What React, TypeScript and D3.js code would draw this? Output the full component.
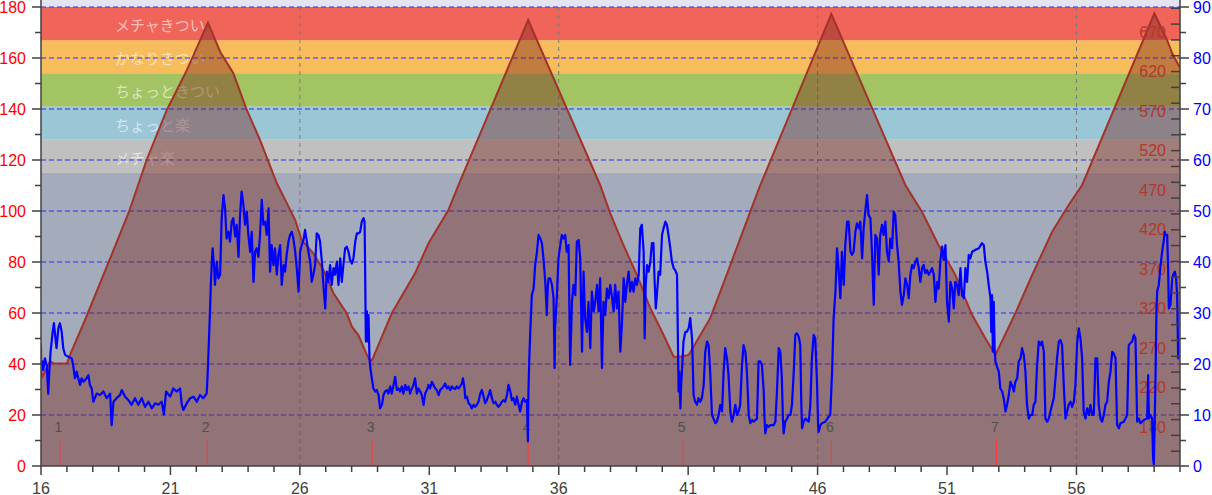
import React from 'react';
import * as d3 from 'd3';

// ---------- data ----------
const xTicksMajor = [16, 21, 26, 31, 36, 41, 46, 51, 56];
const xGridValues = [26, 36, 46, 56];
const leftTickLabels = [0, 20, 40, 60, 80, 100, 120, 140, 160, 180];
const rightTickLabels = [0, 10, 20, 30, 40, 50, 60, 70, 80, 90];
const elevLabels = [170, 220, 270, 320, 370, 420, 470, 520, 570, 620, 670];

const bandLimits = [115, 128, 141, 154, 167, 180];
const bandNames = ['メチャ楽', 'ちょっと楽', 'ちょっときつい', 'かなりきつい', 'メチャきつい'];

const lapDist = [16.73, 22.42, 28.79, 34.82, 40.81, 46.53, 52.91, 59.01];
const lapNames = ['1', '2', '3', '4', '5', '6', '7', '8'];

// elevation profile (m)
const elevDist = [16.0, 16.03, 16.35, 16.5, 17.0, 17.12, 17.7, 18.6, 19.4, 20.08, 20.86, 21.63, 22.45,
  22.92, 23.43, 23.95, 24.46, 25.11, 25.5, 25.82, 26.07, 26.52, 26.91, 27.3, 27.81, 28.01, 28.26, 28.65, 28.78,
  29.55, 30.45, 30.97, 31.74, 32.13, 34.82,
  37.6, 37.99, 38.5, 39.02, 39.54, 40.05, 40.44, 40.7, 41.02,
  41.85, 42.63, 43.4, 43.79, 46.53,
  49.39, 50.03, 50.67, 51.32, 51.97, 52.48, 52.87,
  53.64, 54.29, 55.06, 55.7, 56.22, 59.01, 59.5, 59.7, 60.0];
const elevM = [276.6, 232.7, 254.1, 250.9, 250.9, 261.7, 305.9, 378.0, 442.8, 508.2, 571.4, 621.4, 681.8,
  645.1, 617.8, 571.4, 533.5, 478.7, 453.4, 432.3, 407.0, 390.2, 369.1, 339.7, 314.4, 297.4, 286.9, 257.5, 254.5,
  314.4, 364.9, 402.9, 445.0, 476.6, 685.2,
  476.6, 440.8, 400.7, 362.8, 320.7, 286.9, 259.5, 259.5, 261.7,
  308.1, 375.4, 442.9, 476.6, 692.8,
  476.6, 442.8, 400.7, 362.8, 312.2, 282.8, 261.7,
  314.4, 362.8, 417.5, 451.3, 476.6, 693.4, 659.9, 643.1, 624.5];

// blue series (right axis)
const blueSeries: [number, number][] = [
  [16.0, 20.0], [16.06, 20.5], [16.09, 18.8], [16.15, 21.1], [16.22, 19.8], [16.28, 14.2], [16.32, 18.5], [16.37, 22.4], [16.45, 26.3], [16.5, 28.0], [16.57, 24.4], [16.6, 23.1], [16.67, 27.0], [16.73, 28.0], [16.8, 26.3], [16.86, 23.1], [16.93, 21.8], [17.06, 21.4], [17.19, 21.1], [17.25, 19.5], [17.31, 17.2], [17.38, 18.5], [17.44, 17.2], [17.51, 15.9], [17.57, 17.2], [17.64, 16.5], [17.76, 17.2], [17.83, 17.8], [17.89, 15.9], [17.96, 15.2], [18.02, 12.6], [18.15, 14.2], [18.28, 13.9], [18.41, 14.6], [18.54, 13.3], [18.67, 14.2], [18.73, 8.0], [18.8, 12.6], [18.92, 13.3], [19.05, 13.9], [19.12, 14.9], [19.25, 13.6], [19.38, 12.9], [19.5, 12.0], [19.63, 13.3], [19.76, 12.0], [19.89, 13.3], [20.02, 11.6], [20.15, 12.6], [20.28, 11.3], [20.41, 12.3], [20.53, 12.0], [20.66, 12.6], [20.75, 10.1], [20.83, 14.6], [20.99, 13.6], [21.11, 15.2], [21.24, 14.6], [21.37, 15.2], [21.44, 12.0], [21.5, 11.0], [21.63, 12.3], [21.76, 13.3], [21.89, 13.6], [22.02, 12.6], [22.14, 13.9], [22.27, 13.3], [22.4, 14.2], [22.44, 18.2], [22.49, 25.0], [22.53, 30.6], [22.56, 35.5], [22.6, 40.1], [22.63, 42.7], [22.69, 38.8], [22.72, 35.5], [22.79, 40.1], [22.85, 36.8], [22.92, 37.5], [22.98, 48.6], [23.05, 53.1], [23.11, 50.5], [23.17, 44.6], [23.24, 45.9], [23.3, 44.0], [23.37, 47.9], [23.43, 48.6], [23.5, 45.0], [23.56, 47.3], [23.63, 41.0], [23.69, 49.2], [23.75, 53.8], [23.82, 51.2], [23.88, 47.3], [23.95, 49.9], [24.01, 45.3], [24.08, 42.0], [24.14, 45.9], [24.21, 36.1], [24.27, 42.0], [24.33, 42.7], [24.4, 41.0], [24.46, 45.3], [24.53, 52.2], [24.59, 47.3], [24.66, 47.9], [24.72, 45.3], [24.79, 50.5], [24.85, 38.1], [24.91, 43.3], [24.98, 39.4], [25.04, 42.7], [25.11, 37.5], [25.17, 41.4], [25.24, 43.3], [25.3, 35.5], [25.37, 39.4], [25.43, 38.1], [25.49, 41.4], [25.56, 44.0], [25.62, 45.3], [25.69, 45.9], [25.75, 44.6], [25.82, 42.0], [25.88, 38.8], [25.95, 34.2], [26.01, 42.0], [26.07, 43.3], [26.14, 44.3], [26.2, 46.3], [26.27, 44.0], [26.33, 42.0], [26.4, 40.1], [26.46, 36.1], [26.52, 37.5], [26.59, 39.4], [26.65, 45.6], [26.72, 45.3], [26.78, 44.0], [26.85, 40.1], [26.91, 35.5],
  [26.98, 30.9], [27.04, 38.1], [27.1, 36.1], [27.17, 39.4], [27.23, 35.5], [27.3, 38.8], [27.36, 37.5], [27.43, 40.1], [27.49, 35.5], [27.56, 40.7], [27.62, 36.1], [27.68, 39.4], [27.75, 42.7], [27.81, 43.0], [27.88, 42.0], [27.94, 40.4], [28.01, 39.7], [28.07, 40.7], [28.14, 44.0], [28.2, 45.6], [28.26, 45.6], [28.33, 45.9], [28.39, 47.9], [28.46, 48.6], [28.5, 47.9], [28.52, 39.4], [28.55, 24.4], [28.59, 30.3], [28.63, 24.4], [28.65, 29.6], [28.69, 21.1], [28.71, 19.8], [28.78, 17.2], [28.84, 15.2], [28.91, 14.6], [28.97, 14.9], [29.04, 13.9], [29.1, 11.3], [29.17, 12.0], [29.23, 13.9], [29.29, 14.6], [29.36, 14.9], [29.42, 14.2], [29.49, 15.6], [29.55, 14.2], [29.62, 15.9], [29.68, 17.5], [29.75, 14.9], [29.81, 15.2], [29.87, 14.6], [29.94, 15.6], [30.0, 14.2], [30.07, 15.9], [30.13, 14.9], [30.2, 15.6], [30.26, 14.2], [30.33, 15.2], [30.39, 15.9], [30.45, 17.2], [30.52, 14.2], [30.58, 15.2], [30.65, 14.6], [30.71, 13.9], [30.78, 12.0], [30.84, 14.2], [30.91, 14.9], [30.97, 15.9], [31.03, 15.2], [31.1, 16.5], [31.16, 15.9], [31.23, 15.2], [31.29, 14.9], [31.36, 13.9], [31.42, 14.9], [31.48, 15.2], [31.55, 15.6], [31.61, 16.2], [31.68, 15.2], [31.74, 15.6], [31.81, 14.9], [31.87, 15.6], [31.94, 15.2], [32.0, 15.1], [32.06, 15.6], [32.13, 15.2], [32.19, 15.6], [32.26, 16.2], [32.3, 17.2], [32.36, 15.2], [32.39, 13.3], [32.45, 13.6], [32.52, 12.3], [32.58, 12.0], [32.64, 11.3], [32.71, 12.0], [32.77, 11.6], [32.84, 12.0], [32.9, 12.6], [32.97, 14.2], [33.03, 14.9], [33.1, 13.6], [33.16, 12.3], [33.22, 12.9], [33.29, 13.9], [33.35, 14.9], [33.42, 13.3], [33.48, 12.3], [33.55, 12.6], [33.61, 12.0], [33.67, 11.6], [33.74, 12.0], [33.8, 12.6], [33.87, 12.9], [33.93, 12.6], [34.0, 13.9], [34.06, 15.9], [34.13, 14.6], [34.19, 12.9], [34.25, 13.3], [34.32, 12.0], [34.38, 13.6], [34.45, 12.0], [34.51, 10.7], [34.58, 12.6], [34.64, 13.3], [34.7, 12.6], [34.77, 12.9], [34.81, 4.8], [34.83, 14.6], [34.86, 20.5], [34.9, 26.3], [34.94, 30.9], [34.96, 33.5], [35.03, 34.8], [35.09, 39.4], [35.16, 42.0], [35.22, 45.3], [35.29, 44.6], [35.35, 43.7], [35.41, 40.7], [35.48, 36.1], [35.54, 29.6], [35.58, 35.5], [35.61, 36.8], [35.67, 36.8], [35.74, 35.5], [35.8, 32.9], [35.84, 19.2], [35.86, 27.0], [35.93, 33.5], [35.99, 40.7], [36.06, 43.3], [36.12, 45.3], [36.19, 44.6], [36.25, 45.3], [36.31, 42.0], [36.38, 43.3], [36.44, 19.8], [36.48, 26.3], [36.51, 32.2], [36.57, 35.5], [36.64, 33.5], [36.7, 44.0], [36.77, 44.3], [36.83, 40.7], [36.9, 22.4], [36.96, 38.1], [37.02, 29.0], [37.09, 26.3], [37.15, 32.2], [37.22, 23.1], [37.28, 34.2], [37.35, 30.3], [37.41, 32.2], [37.48, 35.5], [37.54, 30.3], [37.6, 36.8], [37.67, 19.2], [37.73, 32.2], [37.8, 29.6], [37.86, 34.8], [37.93, 32.9],
  [37.99, 35.5], [38.05, 33.5], [38.12, 30.3], [38.18, 35.5], [38.25, 30.9], [38.31, 34.2], [38.38, 22.4], [38.44, 27.6], [38.51, 36.8], [38.57, 32.2], [38.63, 35.5], [38.7, 38.1], [38.76, 34.2], [38.83, 36.1], [38.89, 34.2], [38.96, 36.8], [39.02, 35.5], [39.09, 37.5], [39.15, 46.6], [39.21, 47.3], [39.28, 42.0], [39.32, 25.0], [39.36, 35.5], [39.41, 39.4], [39.47, 38.1], [39.54, 40.1], [39.6, 43.7], [39.66, 43.7], [39.7, 36.8], [39.75, 30.9], [39.79, 33.5], [39.86, 38.1], [39.92, 37.5], [39.99, 45.3], [40.05, 46.6], [40.12, 47.9], [40.18, 47.3], [40.24, 45.3], [40.31, 42.7], [40.37, 40.1], [40.44, 38.8], [40.5, 38.4], [40.57, 37.5], [40.61, 22.4], [40.63, 14.6], [40.66, 18.5], [40.7, 11.3], [40.73, 15.9], [40.76, 18.5], [40.82, 24.4], [40.89, 26.3], [40.95, 26.3], [41.02, 27.0], [41.08, 29.0], [41.15, 25.0], [41.18, 19.8], [41.21, 13.9], [41.27, 12.6], [41.34, 12.0], [41.4, 13.3], [41.47, 12.6], [41.53, 13.3], [41.6, 15.9], [41.66, 22.4], [41.73, 24.4], [41.79, 23.7], [41.85, 18.5], [41.92, 10.0], [41.98, 9.3], [42.05, 8.4], [42.11, 8.7], [42.18, 10.0], [42.24, 12.0], [42.31, 10.7], [42.37, 18.5], [42.43, 23.1], [42.5, 21.1], [42.56, 17.8], [42.63, 10.7], [42.69, 8.7], [42.76, 10.0], [42.82, 12.0], [42.89, 10.0], [42.95, 10.7], [43.01, 12.0], [43.08, 19.8], [43.14, 23.7], [43.21, 22.4], [43.27, 18.5], [43.34, 10.0], [43.4, 8.4], [43.47, 9.0], [43.53, 8.7], [43.66, 9.3], [43.72, 20.5], [43.79, 20.5], [43.85, 19.8], [43.92, 14.6], [43.95, 9.3], [43.98, 6.4], [44.04, 8.0], [44.11, 7.7], [44.17, 8.0], [44.3, 8.0], [44.37, 8.7], [44.43, 14.6], [44.5, 23.1], [44.56, 22.4], [44.62, 17.2], [44.66, 9.3], [44.69, 6.4], [44.75, 8.7], [44.82, 9.3], [44.88, 10.0], [44.95, 10.0], [45.01, 12.0], [45.08, 18.5], [45.14, 25.7], [45.2, 26.0], [45.27, 25.4], [45.33, 23.7], [45.37, 12.6], [45.4, 7.4], [45.46, 8.7], [45.53, 9.3], [45.66, 8.7], [45.72, 12.0], [45.78, 21.1], [45.85, 25.7], [45.91, 25.0], [45.98, 15.9], [46.02, 8.0], [46.04, 6.7], [46.11, 8.0], [46.17, 8.4], [46.3, 8.7], [46.43, 9.7], [46.49, 10.0], [46.56, 18.5], [46.62, 29.0], [46.69, 34.2], [46.75, 42.7], [46.81, 38.8], [46.88, 32.9], [46.94, 42.0], [47.01, 35.5], [47.07, 43.3], [47.14, 47.9], [47.2, 47.9], [47.27, 42.0], [47.33, 41.4], [47.39, 42.0], [47.46, 45.9], [47.52, 47.6], [47.59, 46.6], [47.65, 47.9], [47.72, 40.7], [47.78, 46.6], [47.84, 49.9], [47.91, 53.1], [47.97, 49.2], [48.04, 48.6], [48.1, 42.0], [48.17, 31.6], [48.23, 45.3], [48.3, 44.6], [48.36, 37.5], [48.42, 45.3], [48.49, 47.3], [48.55, 45.3], [48.62, 47.9], [48.68, 42.0], [48.75, 40.1], [48.81, 44.6], [48.88, 42.7], [48.94, 49.9], [49.0, 49.2],
  [49.07, 43.3], [49.13, 40.1], [49.2, 34.2], [49.26, 31.6], [49.33, 33.5], [49.39, 36.8], [49.46, 35.5], [49.52, 32.9], [49.585, 37.5], [49.65, 39.4], [49.71, 38.8], [49.78, 40.1], [49.84, 40.7], [49.91, 38.8], [49.97, 36.1], [50.04, 38.8], [50.1, 39.4], [50.16, 37.8], [50.23, 38.4], [50.29, 37.5], [50.36, 38.1], [50.42, 38.8], [50.49, 37.5], [50.55, 32.2], [50.62, 36.1], [50.68, 34.8], [50.74, 40.1], [50.81, 43.0], [50.87, 40.4], [50.94, 43.3], [51.0, 32.2], [51.07, 28.3], [51.13, 36.1], [51.2, 34.8], [51.26, 30.9], [51.32, 36.1], [51.39, 35.5], [51.45, 33.5], [51.52, 38.8], [51.58, 33.5], [51.65, 32.9], [51.71, 38.8], [51.775, 36.1], [51.84, 41.4], [51.9, 40.7], [51.97, 42.0], [52.1, 42.4], [52.23, 42.7], [52.35, 43.7], [52.42, 43.3], [52.48, 40.1], [52.55, 38.1], [52.61, 35.5], [52.68, 32.9], [52.71, 26.3], [52.74, 33.5], [52.77, 22.4], [52.805, 32.2], [52.84, 23.1], [52.87, 20.5], [52.93, 19.5], [53.0, 18.5], [53.06, 15.2], [53.13, 14.6], [53.19, 13.3], [53.26, 10.7], [53.32, 12.0], [53.385, 13.9], [53.45, 16.5], [53.51, 15.9], [53.58, 14.6], [53.64, 16.5], [53.71, 17.2], [53.77, 20.5], [53.84, 21.1], [53.9, 23.1], [53.965, 21.8], [54.03, 18.5], [54.09, 12.0], [54.16, 9.3], [54.22, 10.0], [54.29, 10.0], [54.35, 12.0], [54.415, 12.6], [54.48, 19.8], [54.545, 24.4], [54.61, 23.7], [54.67, 24.4], [54.74, 22.4], [54.8, 9.3], [54.87, 8.7], [54.93, 9.3], [54.995, 10.7], [55.06, 12.0], [55.125, 13.3], [55.19, 17.2], [55.25, 21.1], [55.32, 24.4], [55.38, 24.7], [55.445, 23.7], [55.51, 15.9], [55.575, 9.3], [55.64, 10.7], [55.7, 12.0], [55.77, 12.6], [55.83, 11.6], [55.9, 12.6], [55.96, 15.9], [56.03, 24.4], [56.09, 27.0], [56.155, 25.0], [56.22, 21.1], [56.28, 10.7], [56.35, 9.3], [56.41, 11.3], [56.48, 10.0], [56.54, 12.0], [56.61, 10.0], [56.67, 10.0], [56.735, 21.1], [56.8, 21.1], [56.86, 12.0], [56.93, 9.3], [56.99, 8.7], [57.055, 10.0], [57.12, 12.0], [57.185, 12.6], [57.25, 16.5], [57.315, 18.5], [57.38, 22.4], [57.44, 22.1], [57.51, 21.1], [57.57, 8.0], [57.64, 7.4], [57.7, 8.4], [57.83, 8.7], [57.895, 9.3], [57.96, 10.0], [58.02, 23.7], [58.09, 24.1], [58.15, 24.4], [58.22, 25.7], [58.28, 25.0], [58.345, 8.7], [58.41, 9.3], [58.47, 8.4], [58.6, 9.0], [58.73, 9.3], [58.77, 17.8], [58.8, 9.3], [58.86, 10.0], [58.925, 9.3], [58.96, 1.5], [58.99, 0.3], [59.03, 10.7], [59.05, 15.9], [59.09, 30.3], [59.12, 34.2], [59.18, 35.5], [59.25, 39.4], [59.31, 42.0], [59.375, 44.3], [59.41, 45.9], [59.44, 45.3], [59.505, 45.3], [59.54, 38.8], [59.57, 30.9], [59.63, 31.6], [59.7, 36.8], [59.74, 37.5], [59.8, 38.1], [59.85, 36.8], [59.89, 33.5], [59.93, 21.1], [59.955, 21.1],
];

// ---------- layout / style ----------
const W = 1212;
const H = 495;
const PL = 41;
const PR = 1180;
const PB = 466;
const FONT = '"Liberation Sans", Arial, sans-serif';
const CJK = '"Noto Sans CJK JP", sans-serif';
const bandColors = ['#c0c0c0', '#9ac6d6', '#a3c462', '#f7bc5c', '#f0645a'];
const axisColor = '#404040';

export default function App() {
  const x = d3.scaleLinear().domain([16, 60]).range([PL, PR]);
  const yL = d3.scaleLinear().domain([0, 180]).range([PB, 7]);
  const yR = d3.scaleLinear().domain([0, 90]).range([PB, 7]);
  const yE = d3.scaleLinear().domain([170, 670]).range([427.5, 32]);

  const elevData = elevDist.map((d, i) => [d, elevM[i]] as [number, number]);
  const area = d3.area<[number, number]>().x(d => x(d[0])).y0(PB).y1(d => yE(d[1]));
  const elevLine = d3.line<[number, number]>().x(d => x(d[0])).y(d => yE(d[1]));
  const blueLine = d3.line<[number, number]>().x(d => x(d[0])).y(d => yR(d[1]));

  const leftMinor = d3.range(0, 181, 10);
  const rightMinor = d3.range(0, 91, 5);
  const xMinor = d3.range(16, 61, 1);
  const elevTicks = d3.range(140, 701, 20);

  return (
    <svg width={W} height={H} style={{ position: 'absolute', left: 0, top: 0, background: '#fff' }}>
      <defs>
        <clipPath id="plot">
          <rect x={PL} y={0} width={PR - PL} height={PB} />
        </clipPath>
      </defs>
      {/* plot background */}
      <rect x={PL} y={0} width={PR - PL} height={PB} fill="#e4e4ee" />
      <rect x={PL} y={yL(bandLimits[0])} width={PR - PL} height={PB - yL(bandLimits[0])} fill="#a4acbc" />
      {bandNames.map((n, i) => (
        <rect key={n} x={PL} y={yL(bandLimits[i + 1])} width={PR - PL}
          height={yL(bandLimits[i]) - yL(bandLimits[i + 1])} fill={bandColors[i]} />
      ))}
      {bandNames.map((n, i) => (
        <text key={'t' + n} x={115} y={(yL(bandLimits[i]) + yL(bandLimits[i + 1])) / 2 + 1}
          dominantBaseline="central" fontFamily={CJK} fontSize={15} fill="#ffffff" fillOpacity={0.6}>{n}</text>
      ))}
      {/* grids */}
      {leftTickLabels.filter(v => v > 0).map(v => (
        <line key={'hg' + v} x1={PL} x2={PR} y1={yL(v)} y2={yL(v)} stroke="#2a2aff" strokeWidth={1} strokeDasharray="5,3" />
      ))}
      {xGridValues.map(v => (
        <line key={'vg' + v} x1={x(v)} x2={x(v)} y1={7} y2={PB} stroke="#7a7a7a" strokeWidth={1} strokeDasharray="4,4" />
      ))}
      {/* elevation area */}
      <g clipPath="url(#plot)">
        <path d={area(elevData) || ''} fill="#79241a" fillOpacity={0.42} />
        <path d={elevLine(elevData) || ''} fill="none" stroke="#a3322a" strokeWidth={2} />
      </g>
      {/* elevation labels */}
      {elevLabels.map(v => (
        <text key={'e' + v} x={1166} y={yE(v)} textAnchor="end" dominantBaseline="central"
          fontFamily={FONT} fontSize={16} fill="#b0382c">{v}</text>
      ))}
      {/* laps */}
      {lapDist.map((d, i) => (
        <g key={'lap' + i}>
          <line x1={x(d)} x2={x(d)} y1={440} y2={PB} stroke="#ff3a3a" strokeWidth={1} />
          <text x={x(d) - 1.5} y={427} textAnchor="middle" dominantBaseline="central"
            fontFamily={FONT} fontSize={14} fill="#505050">{lapNames[i]}</text>
        </g>
      ))}
      {/* blue series */}
      <path d={blueLine(blueSeries) || ''} fill="none" stroke="#0000ff" strokeWidth={2.2} strokeLinejoin="round" />
      {/* axes */}
      <line x1={PL} x2={PL} y1={0} y2={PB} stroke={axisColor} strokeWidth={1.5} />
      <line x1={PR} x2={PR} y1={0} y2={PB} stroke={axisColor} strokeWidth={1.5} />
      <line x1={PL} x2={PR} y1={PB} y2={PB} stroke={axisColor} strokeWidth={1.5} />
      {leftMinor.map(v => (
        <line key={'lt' + v} x1={v % 20 === 0 ? PL - 9 : PL - 6} x2={PL} y1={yL(v)} y2={yL(v)} stroke={axisColor} strokeWidth={1.5} />
      ))}
      {leftTickLabels.map(v => (
        <text key={'ll' + v} x={26} y={yL(v)} textAnchor="end" dominantBaseline="central"
          fontFamily={FONT} fontSize={16} fill="#ff0000">{v}</text>
      ))}
      {rightMinor.map(v => (
        <line key={'rt' + v} x1={PR} x2={v % 10 === 0 ? PR + 9 : PR + 6} y1={yR(v)} y2={yR(v)} stroke={axisColor} strokeWidth={1.5} />
      ))}
      {elevTicks.map(v => (
        <line key={'et' + v} x1={PR - 9} x2={PR} y1={yE(v)} y2={yE(v)} stroke={axisColor} strokeWidth={1.5} />
      ))}
      {rightTickLabels.map(v => (
        <text key={'rl' + v} x={1193} y={yR(v)} textAnchor="start" dominantBaseline="central"
          fontFamily={FONT} fontSize={16} fill="#0000ff">{v}</text>
      ))}
      {xMinor.map(v => (
        <line key={'xt' + v} x1={x(v)} x2={x(v)} y1={PB} y2={(v - 16) % 5 === 0 ? PB + 9 : PB + 6} stroke={axisColor} strokeWidth={1.5} />
      ))}
      {xTicksMajor.map(v => (
        <text key={'xl' + v} x={x(v)} y={488} textAnchor="middle" dominantBaseline="central"
          fontFamily={FONT} fontSize={16} fill={axisColor}>{v}</text>
      ))}
    </svg>
  );
}
